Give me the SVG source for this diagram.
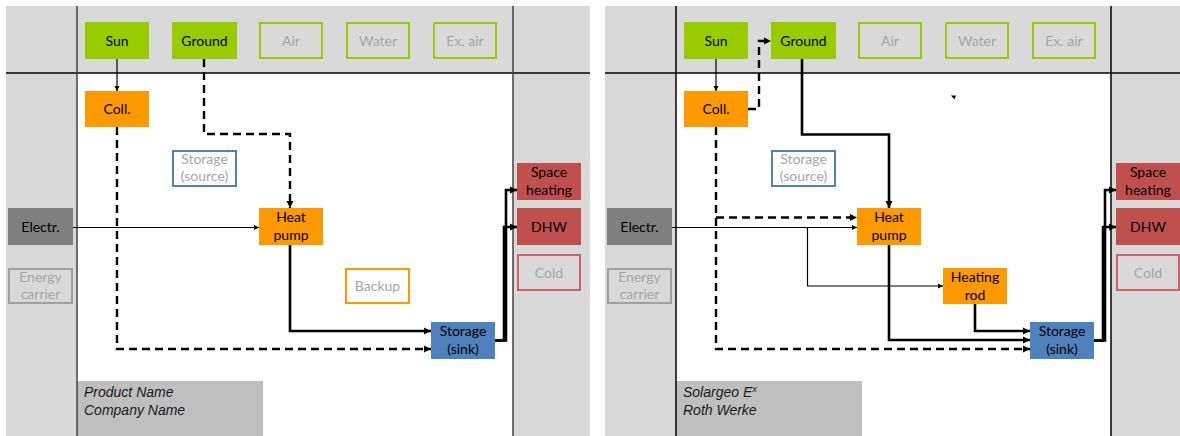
<svg xmlns="http://www.w3.org/2000/svg" width="1180" height="436" viewBox="0 0 1180 436">
<style>
.bg{fill:#d9d9d9}
.mid{fill:#ffffff}
.foot{fill:#bfbfbf}
.sep{stroke:#404040;stroke-width:1.5;fill:none}
.sepk{stroke:#000;stroke-width:1.5;fill:none}
.t{font-family:Lato,"Open Sans","Noto Sans",sans-serif;font-size:14px;text-anchor:middle;fill:#000}
.tg{font-family:Lato,"Open Sans","Noto Sans",sans-serif;font-size:14px;text-anchor:middle;fill:#a6a6a6}
.ft{font-family:"Liberation Sans",Arial,sans-serif;font-size:14px;font-style:italic;fill:#1a1a1a}
.green{fill:#99cc00}
.orange{fill:#ff9900}
.red{fill:#c0504d}
.blue{fill:#4f81bd}
.dgray{fill:#7f7f7f}
.og{fill:none;stroke:#99cc00;stroke-width:2}
.oo{fill:#fff;stroke:#ff9900;stroke-width:2}
.ob{fill:#fff;stroke:#4f81bd;stroke-width:2}
.or{fill:none;stroke:#d06262;stroke-width:2}
.ogr{fill:none;stroke:#a0a0a0;stroke-width:2}
.thin{fill:none;stroke:#000;stroke-width:1.2}
.dash{fill:none;stroke:#000;stroke-width:2.4;stroke-dasharray:8 5}
.thick{fill:none;stroke:#000;stroke-width:2.6}
</style>
<defs>
<marker id="ah" markerUnits="userSpaceOnUse" markerWidth="8" markerHeight="8" refX="7" refY="4" orient="auto">
<path d="M0,0.5 L7,4 L0,7.5 z" fill="#000"/>
</marker>
<marker id="as" markerUnits="userSpaceOnUse" markerWidth="6" markerHeight="6" refX="5" refY="3" orient="auto">
<path d="M0,0.5 L5,3 L0,5.5 z" fill="#000"/>
</marker>
</defs>

<!-- Left panel background -->
<g id="panel-left">
<rect class="bg" x="6" y="6" width="584" height="430"/>
<rect class="mid" x="77" y="73" width="436" height="363"/>
<rect class="foot" x="77" y="381" width="186" height="55"/>
<line class="sepk" x1="6" y1="73" x2="590" y2="73"/>
<line class="sep" x1="77" y1="6" x2="77" y2="436"/>
<line class="sep" x1="513" y1="6" x2="513" y2="436"/>
<text class="ft" x="84" y="397">Product Name</text>
<text class="ft" x="84" y="415">Company Name</text>
</g>

<!-- Right panel background -->
<g id="panel-right">
<rect class="bg" x="605" y="6" width="575" height="430"/>
<rect class="mid" x="676" y="73" width="435" height="363"/>
<rect class="foot" x="676" y="381" width="186" height="55"/>
<line class="sepk" x1="605" y1="73" x2="1180" y2="73"/>
<line class="sepk" x1="676" y1="6" x2="676" y2="436"/>
<line class="sepk" x1="1111" y1="6" x2="1111" y2="436"/>
<text class="ft" x="683" y="397">Solargeo E<tspan font-size="9" dy="-5">x</tspan></text>
<text class="ft" x="683" y="415">Roth Werke</text>
</g>

<!-- Left panel nodes -->
<g id="L-sun"><rect class="green" x="85" y="22" width="64" height="37"/><text class="t" x="117" y="45.5">Sun</text></g>
<g id="L-ground"><rect class="green" x="172" y="22" width="65" height="37"/><text class="t" x="204.5" y="45.5">Ground</text></g>
<g id="L-air"><rect class="og" x="260" y="23" width="62" height="35"/><text class="tg" x="291" y="45.5">Air</text></g>
<g id="L-water"><rect class="og" x="347" y="23" width="62" height="35"/><text class="tg" x="378" y="45.5">Water</text></g>
<g id="L-exair"><rect class="og" x="434" y="23" width="62" height="35"/><text class="tg" x="465" y="45.5">Ex. air</text></g>
<g id="L-coll"><rect class="orange" x="85" y="91" width="64" height="36"/><text class="t" x="117" y="114">Coll.</text></g>
<g id="L-storage-source"><rect class="ob" x="173" y="151" width="63" height="35"/><text class="tg" x="204.5" y="164">Storage</text><text class="tg" x="204.5" y="181">(source)</text></g>
<g id="L-heatpump"><rect class="orange" x="259" y="208" width="64" height="37"/><text class="t" x="291" y="222">Heat</text><text class="t" x="291" y="239.5">pump</text></g>
<g id="L-electr"><rect class="dgray" x="8" y="208" width="65" height="37"/><text class="t" x="40.5" y="231.5">Electr.</text></g>
<g id="L-energy"><rect class="ogr" x="9" y="269" width="63" height="34"/><text class="tg" x="40.5" y="282">Energy</text><text class="tg" x="40.5" y="299">carrier</text></g>
<g id="L-backup"><rect class="oo" x="346" y="269" width="63" height="34"/><text class="tg" x="377.5" y="290.5">Backup</text></g>
<g id="L-storage-sink"><rect class="blue" x="431" y="322" width="64" height="37"/><text class="t" x="463" y="336">Storage</text><text class="t" x="463" y="353.5">(sink)</text></g>
<g id="L-space"><rect class="red" x="517" y="163" width="64" height="37"/><text class="t" x="549" y="177">Space</text><text class="t" x="549" y="194.5">heating</text></g>
<g id="L-dhw"><rect class="red" x="517" y="208" width="64" height="37"/><text class="t" x="549" y="231.5">DHW</text></g>
<g id="L-cold"><rect class="or" x="518" y="255" width="62" height="35"/><text class="tg" x="549" y="277.5">Cold</text></g>

<!-- Right panel nodes -->
<g id="R-sun"><rect class="green" x="684" y="22" width="64" height="37"/><text class="t" x="716" y="45.5">Sun</text></g>
<g id="R-ground"><rect class="green" x="771" y="22" width="65" height="37"/><text class="t" x="803.5" y="45.5">Ground</text></g>
<g id="R-air"><rect class="og" x="859" y="23" width="62" height="35"/><text class="tg" x="890" y="45.5">Air</text></g>
<g id="R-water"><rect class="og" x="946" y="23" width="62" height="35"/><text class="tg" x="977" y="45.5">Water</text></g>
<g id="R-exair"><rect class="og" x="1033" y="23" width="62" height="35"/><text class="tg" x="1064" y="45.5">Ex. air</text></g>
<g id="R-coll"><rect class="orange" x="684" y="91" width="64" height="36"/><text class="t" x="716" y="114">Coll.</text></g>
<g id="R-storage-source"><rect class="ob" x="772" y="151" width="63" height="35"/><text class="tg" x="803.5" y="164">Storage</text><text class="tg" x="803.5" y="181">(source)</text></g>
<g id="R-heatpump"><rect class="orange" x="857" y="208" width="64" height="37"/><text class="t" x="889" y="222">Heat</text><text class="t" x="889" y="239.5">pump</text></g>
<g id="R-electr"><rect class="dgray" x="607" y="208" width="65" height="37"/><text class="t" x="639.5" y="231.5">Electr.</text></g>
<g id="R-energy"><rect class="ogr" x="608" y="269" width="63" height="34"/><text class="tg" x="639.5" y="282">Energy</text><text class="tg" x="639.5" y="299">carrier</text></g>
<g id="R-heatingrod"><rect class="orange" x="943" y="268" width="64" height="36"/><text class="t" x="975" y="282">Heating</text><text class="t" x="975" y="299.5">rod</text></g>
<g id="R-storage-sink"><rect class="blue" x="1030" y="322" width="64" height="37"/><text class="t" x="1062" y="336">Storage</text><text class="t" x="1062" y="353.5">(sink)</text></g>
<g id="R-space"><rect class="red" x="1116" y="163" width="64" height="37"/><text class="t" x="1148" y="177">Space</text><text class="t" x="1148" y="194.5">heating</text></g>
<g id="R-dhw"><rect class="red" x="1116" y="208" width="64" height="37"/><text class="t" x="1148" y="231.5">DHW</text></g>
<g id="R-cold"><rect class="or" x="1117" y="255" width="62" height="35"/><text class="tg" x="1148" y="277.5">Cold</text></g>

<!-- Connectors -->
<g id="connectors">
<!-- left -->
<path class="thin" d="M117,59 V91" marker-end="url(#as)"/>
<path class="dash" d="M204,59 V134 H290 V208" marker-end="url(#ah)"/>
<path class="dash" d="M117,127 V349 H431" marker-end="url(#ah)"/>
<path class="thin" d="M73,227.5 H259" marker-end="url(#as)"/>
<path class="thick" d="M290,245 V331 H431" marker-end="url(#ah)"/>
<path class="thick" d="M495,340.5 H506 V190 H517" marker-end="url(#ah)"/>
<path class="thick" d="M495,340.5 H504 V227 H517" marker-end="url(#ah)"/>
<!-- right -->
<path class="thin" d="M716,59 V91" marker-end="url(#as)"/>
<path class="dash" d="M748,109 H759 V41 H771" marker-end="url(#ah)"/>
<path class="thick" d="M802,59 V134.5 H889 V208" marker-end="url(#ah)"/>
<path class="dash" d="M716,127 V349 H1030" marker-end="url(#ah)"/>
<path class="dash" d="M716,217.5 H857" marker-end="url(#ah)"/>
<path class="thin" d="M672,227.5 H857" marker-end="url(#as)"/>
<path class="thin" d="M807.5,227.5 V286 H943" marker-end="url(#as)"/>
<path class="thick" d="M889,245 V340 H1030" marker-end="url(#ah)"/>
<path class="thick" d="M975,304 V331 H1030" marker-end="url(#ah)"/>
<path class="thick" d="M1094,340.5 H1105 V190 H1116" marker-end="url(#ah)"/>
<path class="thick" d="M1094,340.5 H1103 V227 H1116" marker-end="url(#ah)"/>
<path d="M951,95.5 L956,95.5 L954.5,99.5 z" fill="#000"/>
</g>
</svg>
